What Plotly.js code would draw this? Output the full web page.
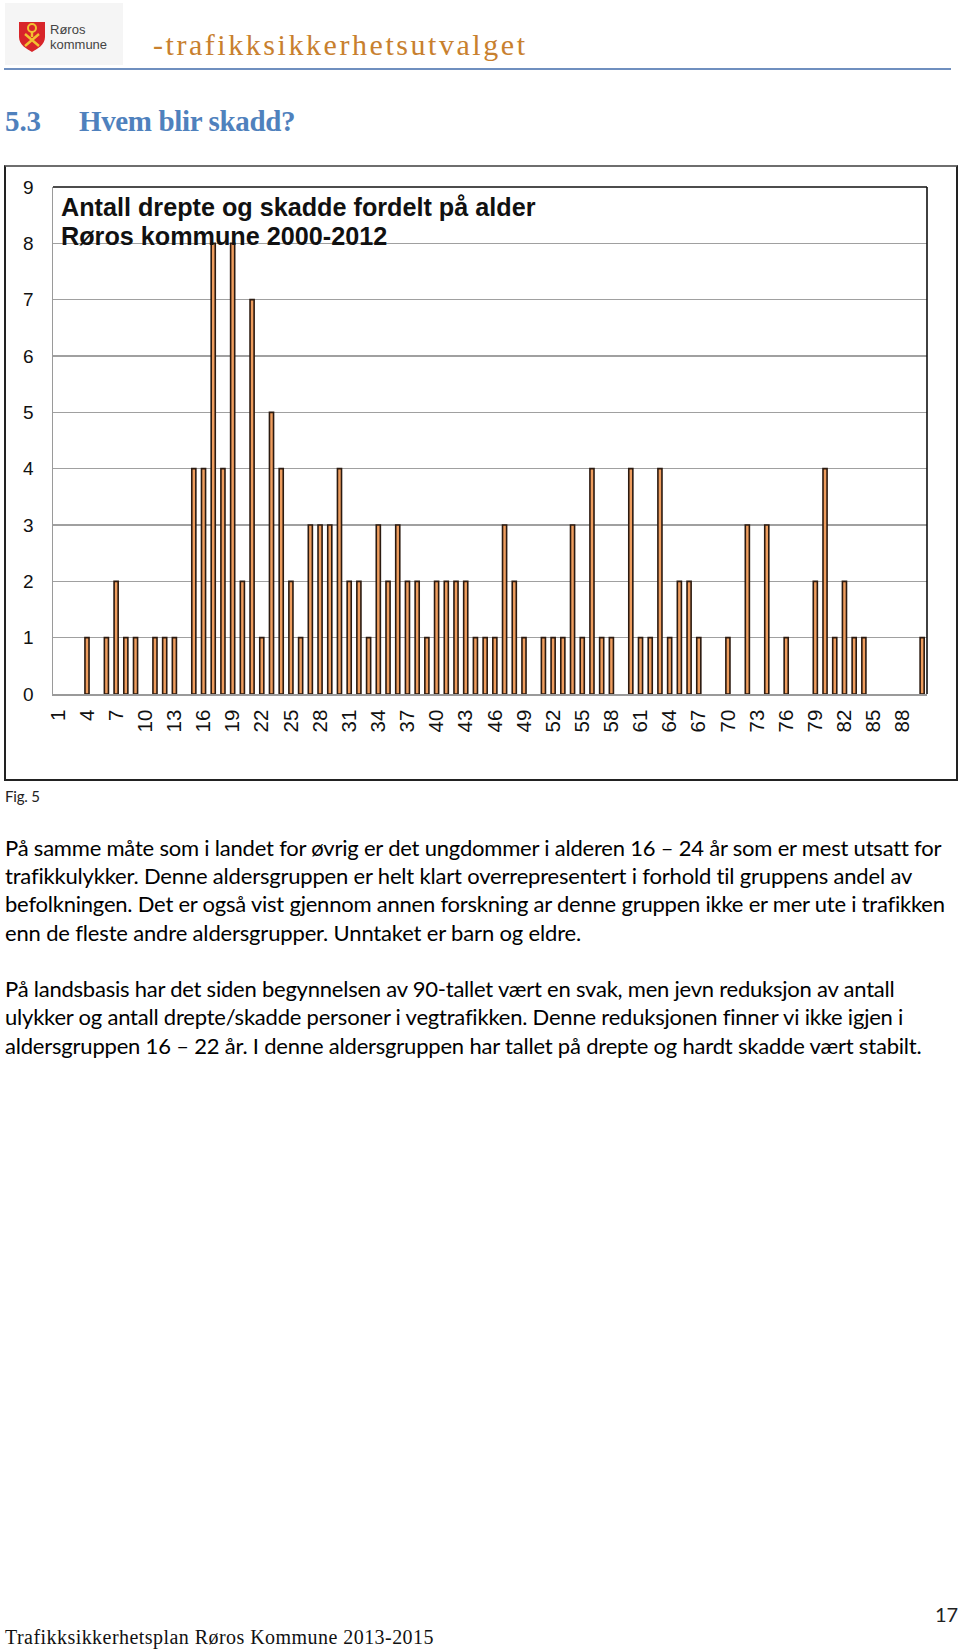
<!DOCTYPE html>
<html lang="no"><head><meta charset="utf-8">
<script src="https://cdn.plot.ly/plotly-3.0.1.min.js"></script>
<style>
html,body{margin:0;padding:0;background:#fff;}
body{position:relative;width:960px;height:1649px;overflow:hidden;}
.t{position:absolute;white-space:nowrap;line-height:1;}
.b{font-family:Lato,sans-serif;font-size:22px;color:#000;left:5px;}
#logo{position:absolute;left:5px;top:3px;width:118px;height:62px;background:#f5f5f5;}
#rule{position:absolute;left:4px;top:68px;width:947px;height:2px;background:#6f8fbf;}
#frame{position:absolute;left:4px;top:165px;width:954px;height:616px;box-sizing:border-box;border:2px solid #222;border-top:2px solid #6e6e6e;pointer-events:none;}
#chart{position:absolute;left:4px;top:165px;width:953px;height:616px;}
</style></head><body>
<div id="logo"></div>
<svg style="position:absolute;left:18px;top:20px" width="28" height="33" viewBox="0 0 28 33">
<path d="M1 2 H27 V17 C27 25 19 29 14 32 C9 29 1 25 1 17 Z" fill="#d8252a"/>
<circle cx="14" cy="8" r="4" fill="none" stroke="#f2c230" stroke-width="2"/>
<path d="M14 12 V17 M7 14 L21 26 M21 14 L7 26" stroke="#f2c230" stroke-width="2.4" fill="none"/>
</svg>
<div class="t" style="left:50px;top:22px;font:13px 'Liberation Sans';color:#444">Røros</div>
<div class="t" style="left:50px;top:37px;font:13px 'Liberation Sans';color:#444">kommune</div>
<div class="t fit" data-x0="153" data-x1="525" data-base="55" style="font-family:'Liberation Serif';font-size:30px;color:#c8802e;">-trafikksikkerhetsutvalget</div>
<div id="rule"></div>
<div class="t fit" data-x0="5" data-x1="41" data-base="131" style="font-family:'Liberation Serif';font-weight:bold;font-size:29px;color:#4f81bd;">5.3</div>
<div class="t fit" data-x0="79" data-x1="296" data-base="131" style="font-family:'Liberation Serif';font-weight:bold;font-size:29px;color:#4f81bd;">Hvem blir skadd?</div>
<div id="chart"></div>
<div id="frame"></div>
<div class="t fit" data-x0="5" data-x1="40" data-base="802.5" style="font-family:Lato;font-size:15px;color:#222;">Fig. 5</div>
<div class="t b fit" data-x0="5" data-x1="943" data-base="856">På samme måte som i landet for øvrig er det ungdommer i alderen 16 – 24 år som er mest utsatt for</div>
<div class="t b fit" data-x0="5" data-x1="912.7" data-base="884.3">trafikkulykker. Denne aldersgruppen er helt klart overrepresentert i forhold til gruppens andel av</div>
<div class="t b fit" data-x0="5" data-x1="947" data-base="912.7">befolkningen. Det er også vist gjennom annen forskning ar denne gruppen ikke er mer ute i trafikken</div>
<div class="t b fit" data-x0="5" data-x1="581.7" data-base="941">enn de fleste andre aldersgrupper. Unntaket er barn og eldre.</div>
<div class="t b fit" data-x0="5" data-x1="896.7" data-base="997">På landsbasis har det siden begynnelsen av 90-tallet vært en svak, men jevn reduksjon av antall</div>
<div class="t b fit" data-x0="5" data-x1="905" data-base="1025.5">ulykker og antall drepte/skadde personer i vegtrafikken. Denne reduksjonen finner vi ikke igjen i</div>
<div class="t b fit" data-x0="5" data-x1="922.7" data-base="1054">aldersgruppen 16 – 22 år. I denne aldersgruppen har tallet på drepte og hardt skadde vært stabilt.</div>
<div class="t" style="left:935px;top:1604px;font-family:Lato;font-size:20px;color:#222;">17</div>
<div class="t fit" data-x0="5" data-x1="433.5" data-base="1644" style="font-family:'Liberation Serif';font-size:20px;color:#111;">Trafikksikkerhetsplan Røros Kommune 2013-2015</div>
<script>
const ages = [1,2,3,4,5,6,7,8,9,10,11,12,13,14,15,16,17,18,19,20,21,22,23,24,25,26,27,28,29,30,
  31,32,33,34,35,36,37,38,39,40,41,42,43,44,45,46,47,48,49,50,51,52,53,54,55,56,57,58,59,60,
  61,62,63,64,65,66,67,68,69,70,71,72,73,74,75,76,77,78,79,80,81,82,83,84,85,86,87,88,89,90];
const counts = [0,0,0,1,0,1,2,1,1,0,1,1,1,0,4,4,8,4,8,2,7,1,5,4,2,1,3,3,3,4,
  2,2,1,3,2,3,2,2,1,2,2,2,2,1,1,1,3,2,1,0,1,1,1,3,1,4,1,1,0,4,
  1,1,4,1,2,2,1,0,0,1,0,3,0,3,0,1,0,0,2,4,1,2,1,1,0,0,0,0,0,1];
const xTicks = [1,4,7,10,13,16,19,22,25,28,31,34,37,40,43,46,49,52,55,58,61,64,67,70,73,76,79,82,85,88];
const yTicks = [0,1,2,3,4,5,6,7,8,9];
const titleLine1 = 'Antall drepte og skadde fordelt på alder';
const titleLine2 = 'Røros kommune 2000-2012';

const sans = 'Liberation Sans, Arial, sans-serif';
const titleFont = {family:sans, size:25.2, color:'#111', weight:'bold'};
Plotly.newPlot('chart',[{
  type:'bar', x:ages, y:counts.map(v => v === 0 ? null : v),
  marker:{color:'#ee9d5e', line:{color:'#2b1a10', width:1.6}},
  hoverinfo:'x+y'
}],{
  width:953, height:616,
  margin:{l:49, r:30, t:22, b:87, pad:0},
  paper_bgcolor:'rgba(0,0,0,0)', plot_bgcolor:'#fff',
  bargap:0.58, showlegend:false,
  title:{text:titleLine1, x:57/953, xref:'container', xanchor:'left',
         y:1-42/616, yref:'container', yanchor:'middle', font:titleFont},
  annotations:[{text:titleLine2, xref:'paper', yref:'paper', x:(60-53)/874, xanchor:'left',
         y:(694-236)/507, yanchor:'middle', showarrow:false, font:titleFont, borderpad:0}],
  xaxis:{range:[0.5,90.5], tickmode:'array', tickvals:xTicks, ticktext:xTicks.map(String),
         tickangle:-90, ticks:'', showgrid:false, zeroline:false, showline:true,
         linecolor:'#9a9a9a', linewidth:1.5, tickfont:{family:sans,size:20.5,color:'#111'}, ticklabelstandoff:6, automargin:false},
  yaxis:{range:[0,9], tickmode:'array', tickvals:yTicks, ticktext:yTicks.map(String),
         ticks:'', showgrid:true, gridcolor:'#a0a0a0', gridwidth:1.6, zeroline:false, showline:true,
         linecolor:'#9a9a9a', linewidth:1.5, tickfont:{family:sans,size:19,color:'#111'}, ticklabelstandoff:14, automargin:false},
  shapes:[
    {type:'line',xref:'paper',yref:'paper',x0:0,x1:1,y0:1,y1:1,line:{color:'#111',width:1.6}},
    {type:'line',xref:'paper',yref:'paper',x0:1,x1:1,y0:0,y1:1,line:{color:'#111',width:1.6}}
  ]
},{staticPlot:true,displayModeBar:false});

// place each document line by its baseline and fit it to its measured extent
function place(){
  const c=document.createElement('canvas').getContext('2d');
  document.querySelectorAll('.fit').forEach(el=>{
    const cs=getComputedStyle(el), fs=parseFloat(cs.fontSize);
    c.font=cs.fontWeight+' '+fs+'px '+cs.fontFamily;
    const w=c.measureText(el.textContent).width, m=c.measureText('x');
    const x0=+el.dataset.x0, x1=+el.dataset.x1, n=el.textContent.length-1;
    el.style.left=x0+'px';
    el.style.letterSpacing=((x1-x0-w)/n)+'px';
    const a=m.fontBoundingBoxAscent, d=m.fontBoundingBoxDescent;
    el.style.top=(+el.dataset.base-(a+(fs-(a+d))/2))+'px';
  });
}
place();
if(document.fonts&&document.fonts.ready)document.fonts.ready.then(place);
</script>
</body></html>
